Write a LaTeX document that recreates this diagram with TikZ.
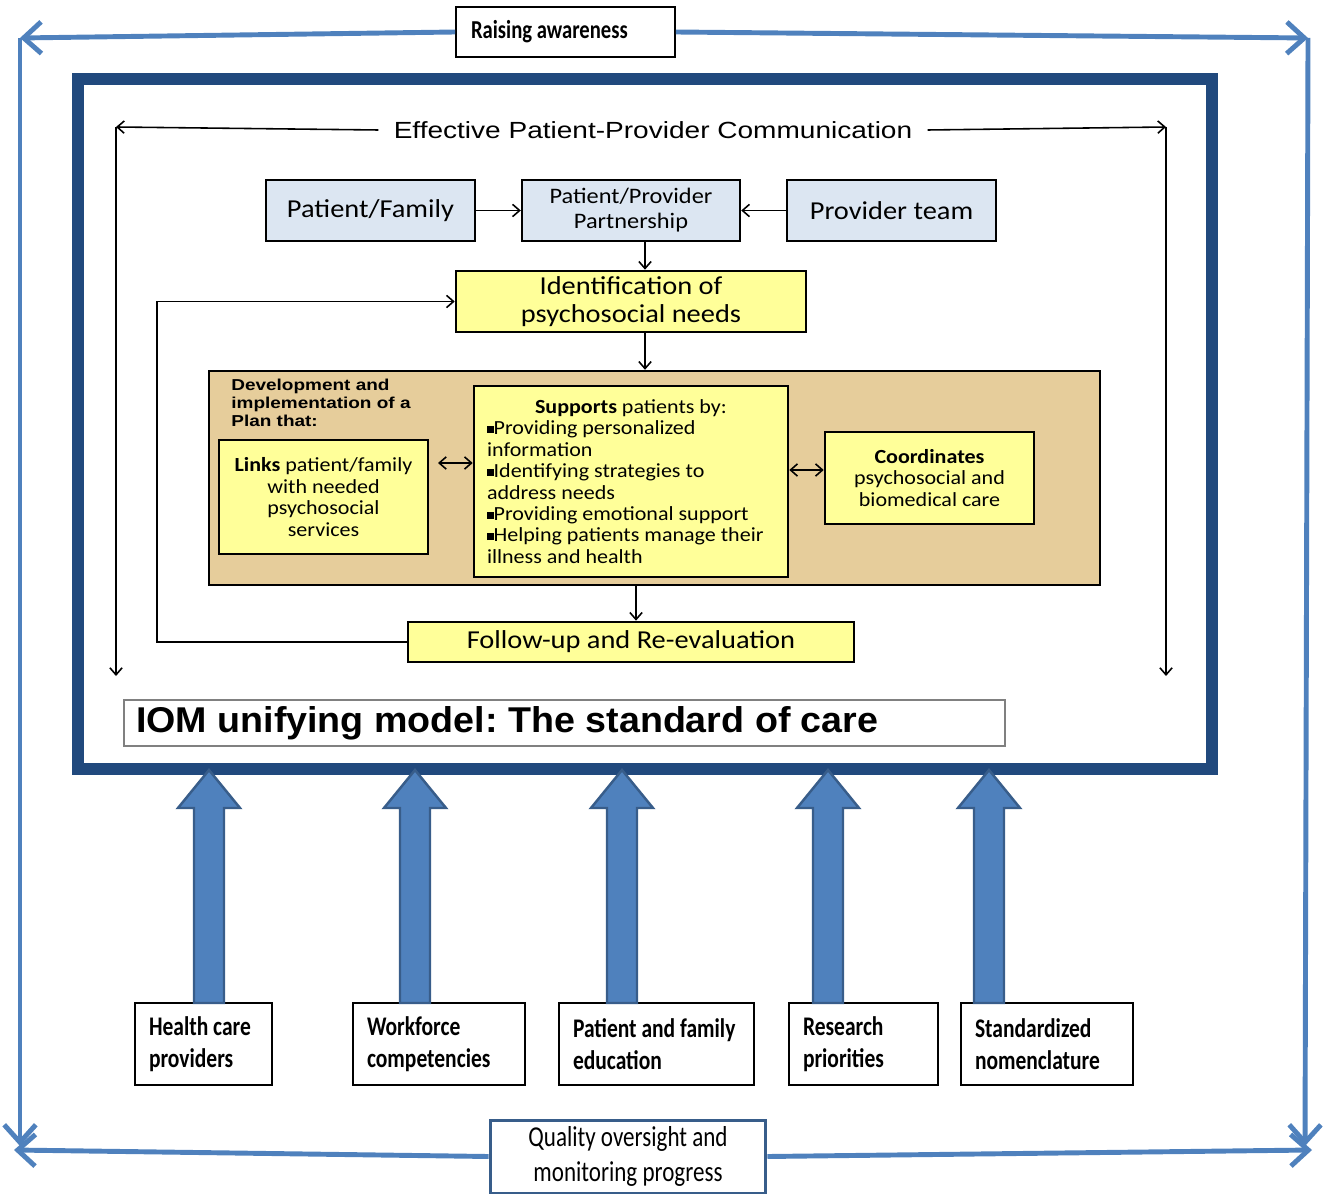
\documentclass[tikz,border=0pt]{standalone}
\usepackage{fontspec}
\setmainfont{Carlito}
\newfontfamily\wide[FakeStretch=1.1]{Carlito}
\newfontfamily\cond[FakeStretch=0.8]{Carlito}
\newfontfamily\arialw[FakeStretch=1.2]{Liberation Sans}
\newfontfamily\arialb[FakeStretch=1.05]{Liberation Sans}
\usepackage{xcolor}
\usetikzlibrary{arrows.meta}
\frenchspacing

\definecolor{frameblue}{HTML}{21497D}
\definecolor{lineblue}{HTML}{4F81BD}
\definecolor{darkblue}{HTML}{385D8A}
\definecolor{paleblue}{HTML}{DCE6F2}
\definecolor{paleyellow}{HTML}{FFFF99}
\definecolor{papyrus}{RGB}{230,205,155}
\newcommand{\sqbul}{\raisebox{0.2ex}{\rule{0.33em}{0.33em}}}

\begin{document}
\begin{tikzpicture}[x=0.02cm, y=-0.02cm,
    every node/.style={execute at begin node={\spaceskip=0pt\xspaceskip=0pt\relax}},
    bluebox/.style={draw, line width=1.4pt, fill=paleblue, minimum height=1.22cm, inner sep=2pt,
      font=\wide\fontsize{14.7}{16}\selectfont},
    ybox/.style={draw, line width=1.5pt, fill=paleyellow, align=center, inner sep=2pt,
      font=\wide\fontsize{11.4}{12.2}\selectfont},
    wbox/.style={draw, line width=1pt, fill=white, align=left, minimum height=1.64cm, inner xsep=0.28cm,
      font=\cond\bfseries\fontsize{15.3}{18.1}\selectfont},
    conn/.style={line width=0.9pt, -{Straight Barb[length=4pt,width=7pt]}},
    dconn/.style={line width=0.9pt, {Straight Barb[length=4pt,width=7pt]}-{Straight Barb[length=4pt,width=7pt]}},
    bigline/.style={line width=2.8pt, draw=lineblue, -{Straight Barb[length=10pt,width=18pt]}},
    bigarrow/.style={fill=lineblue, draw=darkblue, line width=1.4pt, line join=miter}]
  \useasboundingbox (0,0) rectangle (1324,1195);

  % marco azul
  \draw[frameblue, line width=6.8pt] (78,79) rectangle (1212,769);

  % cajas de fuera
  \node[draw, line width=1pt, fill=white, text width=3.78cm, minimum height=1cm, inner xsep=0.3cm, align=left,
    font=\cond\bfseries\fontsize{14.7}{16}\selectfont] (raise) at (565.5,32) {Raising awareness};
  \node[draw=darkblue, line width=1.7pt, fill=white, minimum width=5.52cm, minimum height=1.46cm, align=center,
    font=\cond\fontsize{16.4}{20.4}\selectfont] (quality) at (628,1156.5) {Quality oversight and\\monitoring progress};

  \coordinate (tl) at (20,38);
  \coordinate (tr) at (1308,38);
  \coordinate (bl) at (20,1146);
  \coordinate (br) at (1305,1146);
  \coordinate (bll) at (14,1150);
  \coordinate (brr) at (1312,1150);
  \draw[bigline] (raise.west) -- (tl);
  \draw[bigline] (raise.east) -- (tr);
  \draw[bigline] (tl) -- (bl);
  \draw[bigline] (tr) -- (br);
  \draw[bigline] (quality.west) -- (bll);
  \draw[bigline] (quality.east) -- (brr);

  % comunicacion
  \node[font=\arialw\fontsize{13.3}{15}\selectfont, inner xsep=0.3cm] (epc) at (653,130)
    {Effective Patient-Provider Communication};
  \coordinate (cl) at (116,127);
  \coordinate (cr) at (1166,127);
  \coordinate (clb) at (116,676);
  \coordinate (crb) at (1166,676);
  \draw[conn] (epc.west) -- (cl);
  \draw[conn] (cl) -- (clb);
  \draw[conn] (epc.east) -- (cr);
  \draw[conn] (cr) -- (crb);

  % fila de arriba
  \node[bluebox, minimum width=4.18cm] (pf) at (370.5,210.5) {Patient/Family};
  \node[bluebox, minimum width=4.36cm, align=center, font=\wide\fontsize{12.6}{14.2}\selectfont] (ppp) at (631,210.5)
    {Patient/Provider\\Partnership};
  \node[bluebox, minimum width=4.18cm] (pt) at (891.5,210.5) {Provider team};
  \draw[conn] (pf) -- (ppp);
  \draw[conn] (pt) -- (ppp);

  \node[ybox, minimum width=7cm, minimum height=1.22cm, font=\wide\fontsize{14.7}{15.9}\selectfont] (ident) at (631,301.5)
    {Identification of\\psychosocial needs};
  \draw[conn] (ppp.south -| 645,0) -- (ident.north -| 645,0);

  % plan
  \node[draw, line width=1.4pt, fill=papyrus, minimum width=17.82cm, minimum height=4.28cm] (plan) at (654.5,478) {};
  \draw[conn] (ident.south -| 645,0) -- (plan.north -| 645,0);
  \node[anchor=north west, align=left, inner sep=0pt, font=\arialw\bfseries\fontsize{9}{10.2}\selectfont] (plantitle)
    at (231,379) {Development and\\implementation of a\\Plan that:};
  \node[ybox, minimum width=4.18cm, minimum height=2.28cm] (links) at (323.5,497)
    {\textbf{Links} patient/family\\with needed\\psychosocial\\services};
  \node[ybox, text width=5.76cm, inner xsep=0.26cm, minimum height=3.82cm, align=left] (supp) at (631,481.5)
    {\hspace*{0.96cm}\textbf{Supports} patients by:\\
     \sqbul Providing personalized\\
     information\\
     \sqbul Identifying strategies to\\
     address needs\\
     \sqbul Providing emotional support\\
     \sqbul Helping patients manage their\\
     illness and health};
  \node[ybox, minimum width=4.18cm, minimum height=1.84cm] (coord) at (929.5,478)
    {\textbf{Coordinates}\\psychosocial and\\biomedical care};
  \coordinate (la) at (438,463);
  \draw[dconn] (la) -- (supp.west |- la);
  \draw[dconn] (supp.east |- 0,470) -- (coord.west |- 0,470);

  % seguimiento
  \node[ybox, minimum width=8.92cm, minimum height=0.8cm, font=\wide\fontsize{14.7}{16}\selectfont] (follow) at (631,642)
    {Follow-up and Re-evaluation};
  \draw[conn] (plan.south -| 636,0) -- (follow.north -| 636,0);
  \coordinate (fb) at (157,470);
  \draw[conn] (follow.west) -| (fb) |- (ident.west);

  \node[draw=gray, line width=0.7pt, fill=white, text width=17.14cm, minimum height=0.92cm, inner xsep=0.24cm,
    align=left, font=\arialb\bfseries\fontsize{20.4}{22}\selectfont] (iom) at (564.5,723)
    {IOM unifying model: The standard of care};

  % cajas de abajo
  \node[wbox, text width=2.18cm] (hc) at (203.5,1044) {Health care\\providers};
  \node[wbox, text width=2.88cm] (wf) at (439,1044) {Workforce\\competencies};
  \node[wbox, text width=3.34cm] (pfe) at (656.5,1044) {Patient and family\\education};
  \node[wbox, text width=2.42cm] (rp) at (863.5,1044) {Research\\priorities};
  \node[wbox, text width=2.88cm] (sn) at (1047,1044) {Standardized\\nomenclature};

  % flechas gordas
  \foreach \ax in {209,415,622,828,989}
    \draw[bigarrow] (\ax-15,1003) -- (\ax-15,808) -- (\ax-31,808) -- (\ax,770)
      -- (\ax+31,808) -- (\ax+15,808) -- (\ax+15,1003) -- cycle;
\end{tikzpicture}
\end{document}
